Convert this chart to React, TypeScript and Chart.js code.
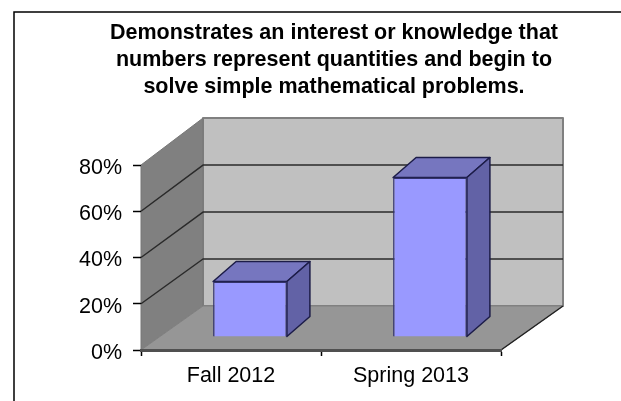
import React, { useEffect, useRef } from "react";
import { Chart, registerables } from "chart.js";

Chart.register(...registerables);

const categories = ["Fall 2012", "Spring 2013"];
const shareValues = [24, 69];
const titleLines = [
  "Demonstrates an interest or knowledge that",
  "numbers represent quantities and begin to",
  "solve simple mathematical problems.",
];

// Receding depth of the 3D box, and the placement of the bars inside it.
const WALL_DX = 62;
const WALL_DY = 44;
const WALL_STRETCH = 1.016;
const BAR_SHIFT_X = 19;
const BAR_SHIFT_Y = 13;
const BAR_DX = 23;
const BAR_DY = 20;

const poly = (ctx: CanvasRenderingContext2D, pts: number[][], fill: string, stroke?: string, lw = 1) => {
  ctx.beginPath();
  pts.forEach(([x, y], i) => (i ? ctx.lineTo(x, y) : ctx.moveTo(x, y)));
  ctx.closePath();
  ctx.fillStyle = fill;
  ctx.fill();
  if (stroke) {
    ctx.strokeStyle = stroke;
    ctx.lineWidth = lw;
    ctx.lineJoin = "round";
    ctx.stroke();
  }
};

// Frame, walls, floor and gridlines sit underneath the axes and bars.
const boxPlugin = {
  id: "box3d",
  beforeDraw(chart: any) {
    const { ctx, chartArea: a, scales } = chart;
    const yScale = scales.y;
    const L = a.left, R = a.right, T = a.top, B = a.bottom;
    // Where a front-plane height lands on the back wall.
    const backY = (y: number) => B - WALL_DY - (B - y) * WALL_STRETCH;
    ctx.save();
    ctx.strokeStyle = "#000";
    ctx.lineWidth = 1.5;
    ctx.strokeRect(14, 12, 640, 440);

    poly(ctx, [[L + WALL_DX, backY(T)], [R + WALL_DX, backY(T)], [R + WALL_DX, backY(B)], [L + WALL_DX, backY(B)]], "#c0c0c0", "#808080", 2);
    poly(ctx, [[L, B], [L + WALL_DX, backY(B)], [L + WALL_DX, backY(T)], [L, T]], "#808080", "#777777", 1);
    poly(ctx, [[L, B], [R, B], [R + WALL_DX, backY(B)], [L + WALL_DX, backY(B)]], "#969696", "#808080", 1);

    // Dark outer edge of the floor on the right.
    ctx.beginPath();
    ctx.moveTo(R, B);
    ctx.lineTo(R + WALL_DX, backY(B));
    ctx.strokeStyle = "#222222";
    ctx.lineWidth = 1.5;
    ctx.stroke();

    yScale.ticks.forEach((t: any) => {
      if (t.value === 0 || t.value === 80) return;
      const y = yScale.getPixelForValue(t.value);
      ctx.beginPath();
      ctx.moveTo(L, y);
      ctx.lineTo(L + WALL_DX, backY(y));
      ctx.lineTo(R + WALL_DX, backY(y));
      ctx.strokeStyle = "#2a2a2a";
      ctx.lineWidth = 1.5;
      ctx.stroke();
    });
    ctx.restore();
  },
  // The top and side faces are drawn first; the library's bar supplies the front face.
  beforeDatasetDraw(chart: any, args: any) {
    const { ctx } = chart;
    const edge = "#1c1c48";
    args.meta.data.forEach((bar: any) => {
      const l = bar.x - bar.width / 2 + BAR_SHIFT_X;
      const r = bar.x + bar.width / 2 + BAR_SHIFT_X;
      const t = bar.y - BAR_SHIFT_Y;
      const b = bar.base - BAR_SHIFT_Y;
      poly(ctx, [[l, t], [r, t], [r + BAR_DX, t - BAR_DY], [l + BAR_DX, t - BAR_DY]], "#7676bf", edge, 1.5);
      poly(ctx, [[r, t], [r + BAR_DX, t - BAR_DY], [r + BAR_DX, b - BAR_DY], [r, b]], "#6262a6", edge, 1.5);
    });
    ctx.save();
    ctx.translate(BAR_SHIFT_X, -BAR_SHIFT_Y);
  },
  afterDatasetDraw(chart: any) {
    chart.ctx.restore();
  },
};

export default function App() {
  const ref = useRef<HTMLCanvasElement | null>(null);

  useEffect(() => {
    const chart = new Chart(ref.current as HTMLCanvasElement, {
      type: "bar",
      data: {
        labels: categories,
        datasets: [
          {
            data: shareValues,
            backgroundColor: "#9999ff",
            borderColor: "#33336a",
            borderWidth: 1.5,
            barPercentage: 0.41,
            categoryPercentage: 1,
            clip: false,
          },
        ],
      },
      plugins: [boxPlugin],
      options: {
        responsive: false,
        animation: false,
        layout: { padding: { top: 14, left: 47, right: 0, bottom: 0 } },
        plugins: {
          legend: { display: false },
          tooltip: { enabled: false },
          title: {
            display: true,
            text: titleLines,
            color: "#000",
            font: { family: "'Liberation Sans'", size: 21.5, weight: "bold", lineHeight: 1.25 },
            padding: { top: 6, bottom: 64.4 },
          },
        },
        scales: {
          x: {
            grid: { drawOnChartArea: false, offset: true, tickLength: 6, tickColor: "#000", tickWidth: 1.5 },
            border: { color: "#505050", width: 3 },
            ticks: { color: "#000", padding: 7, font: { family: "'Liberation Sans'", size: 21.5 }, maxRotation: 0 },
            afterFit: (s: any) => { s.height = 51; },
          },
          y: {
            min: 0,
            max: 80,
            grid: { drawOnChartArea: false, tickLength: 8, tickColor: "#000", tickWidth: 1.5 },
            border: { display: false },
            ticks: {
              stepSize: 20,
              color: "#000",
              padding: 11,
              labelOffset: 3,
              font: { family: "'Liberation Sans'", size: 21.5 },
              callback: (v: any) => `${v}%`,
            },
            afterFit: (s: any) => { s.width = 94; },
          },
          // Reserves the room the receding walls take up to the right of the front plane.
          depth: {
            position: "right",
            display: true,
            grid: { display: false },
            border: { display: false },
            ticks: { display: false },
            afterFit: (s: any) => { s.width = 120; },
          },
        },
      },
    } as any);
    return () => chart.destroy();
  }, []);

  return (
    <canvas
      ref={ref}
      width={621}
      height={401}
      style={{ position: "fixed", left: 0, top: 0, display: "block" }}
    />
  );
}
